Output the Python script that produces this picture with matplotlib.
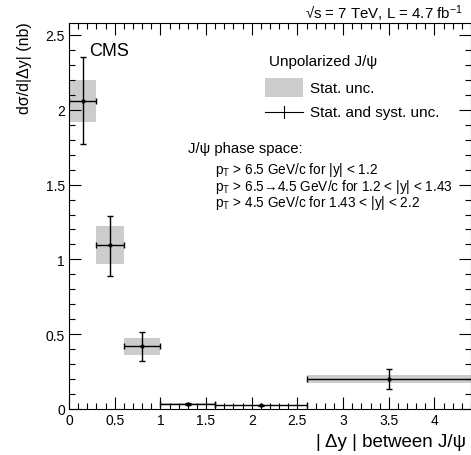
import matplotlib
matplotlib.use("Agg")
import matplotlib.pyplot as plt
import numpy as np
from matplotlib.patches import Rectangle
from matplotlib.lines import Line2D
from matplotlib.ticker import MultipleLocator

plt.rcParams['font.family'] = ['Liberation Sans', 'DejaVu Sans']
plt.rcParams['mathtext.fontset'] = 'custom'
plt.rcParams['mathtext.rm'] = 'Liberation Sans'
plt.rcParams['mathtext.it'] = 'Liberation Sans:italic'

# 数据: |Δy| bins
x_lo = np.array([0.0, 0.3, 0.6, 1.0, 1.6, 2.6])
x_hi = np.array([0.3, 0.6, 1.0, 1.6, 2.6, 4.5])
x_pt = np.array([0.15, 0.45, 0.8, 1.3, 2.1, 3.5])
y_val = np.array([2.06, 1.095, 0.418, 0.036, 0.025, 0.20])
stat_lo = np.array([1.92, 0.97, 0.36, 0.034, 0.023, 0.175])
stat_hi = np.array([2.20, 1.22, 0.475, 0.038, 0.027, 0.225])
tot_lo = np.array([1.77, 0.89, 0.32, 0.030, 0.020, 0.132])
tot_hi = np.array([2.35, 1.29, 0.514, 0.042, 0.030, 0.268])

W, H = 471, 456
fig = plt.figure(figsize=(W / 100, H / 100), dpi=100)
ax = fig.add_axes([69 / W, 1 - 410 / H, (471 - 69) / W, (410 - 24) / H])

gray = '#cccccc'
# 统计误差带
ax.bar(x_lo, stat_hi - stat_lo, width=x_hi - x_lo, bottom=stat_lo,
       align='edge', color=gray, linewidth=0, zorder=1)
# 总误差
ax.errorbar(x_pt, y_val,
            xerr=[x_pt - x_lo, x_hi - x_pt],
            yerr=[y_val - tot_lo, tot_hi - y_val],
            fmt='o', ms=2.0, color='black', ecolor='black',
            elinewidth=1.0, capsize=2, capthick=1.0, zorder=3)

ax.set_xlim(0, 4.4)
ax.set_ylim(0, 2.58)
ax.xaxis.set_major_locator(MultipleLocator(0.5))
ax.xaxis.set_minor_locator(MultipleLocator(0.1))
ax.yaxis.set_major_locator(MultipleLocator(0.5))
ax.yaxis.set_minor_locator(MultipleLocator(0.1))
ax.xaxis.set_major_formatter(plt.FuncFormatter(lambda v, p: f'{v:g}'))
ax.yaxis.set_major_formatter(plt.FuncFormatter(lambda v, p: f'{v:g}'))
ax.tick_params(which='both', direction='in', top=True, right=True,
               labelsize=10, width=0.8)
ax.tick_params(which='major', length=8.6, pad=3)
ax.tick_params(which='minor', length=4.3)
for s in ax.spines.values():
    s.set_linewidth(0.8)

def fx(px):
    return px / W

def fy(py):
    return 1 - py / H

# 标签
fig.text(fx(25), fy(22), 'dσ/d|Δy| (nb)', rotation=90, ha='center',
         va='top', fontsize=11.5)
fig.text(fx(316), fy(443), '| Δy | between J/ψ', ha='left', va='center',
         fontsize=13.5)
fig.text(fx(305), fy(14), r'√s = 7 TeV, L = 4.7 fb$^{-1}$', ha='left',
         va='center', fontsize=10.8)
fig.text(fx(89), fy(51), 'CMS', ha='left', va='center', fontsize=13)

# 图例
fig.text(fx(269), fy(62), 'Unpolarized J/ψ', ha='left', va='center',
         fontsize=11)
fig.patches.append(Rectangle((fx(265), fy(98)), fx(303) - fx(265),
                             fy(79) - fy(98), transform=fig.transFigure,
                             facecolor=gray, edgecolor='none'))
fig.text(fx(310), fy(89), 'Stat. unc.', ha='left', va='center', fontsize=11)
fig.lines.append(Line2D([fx(265), fx(303)], [fy(113), fy(113)],
                        transform=fig.transFigure, color='black', lw=0.8))
fig.lines.append(Line2D([fx(284), fx(284)], [fy(107), fy(119)],
                        transform=fig.transFigure, color='black', lw=0.8))
fig.text(fx(310), fy(113), 'Stat. and syst. unc.', ha='left', va='center',
         fontsize=11)

fig.text(fx(188), fy(149), 'J/ψ phase space:', ha='left', va='center',
         fontsize=10.7)
phase = [r'p$_{\mathrm{T}}$ > 6.5 GeV/c for |y| < 1.2',
         r'p$_{\mathrm{T}}$ > 6.5→4.5 GeV/c for 1.2 < |y| < 1.43',
         r'p$_{\mathrm{T}}$ > 4.5 GeV/c for 1.43 < |y| < 2.2']
for i, t in enumerate(phase):
    fig.text(fx(215), fy(170 + 16.5 * i), t, ha='left', va='center',
             fontsize=9.8)

fig.savefig('out.png', dpi=100)
